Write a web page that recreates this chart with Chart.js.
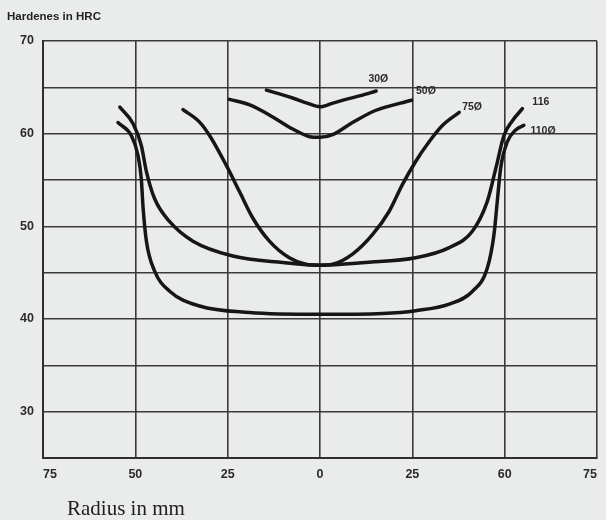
<!DOCTYPE html>
<html>
<head>
<meta charset="utf-8">
<title>Hardness profile</title>
<script src="https://cdn.jsdelivr.net/npm/chart.js@4/dist/chart.umd.min.js"></script>
<style>
  html, body { margin: 0; padding: 0; background: #eaecec; }
  canvas { display: block; }
</style>
</head>
<body>
<canvas id="c" width="606" height="520"></canvas>
<script>
// Hardness (HRC) across the section, radius in mm (negative = left half)
const r30   = [-14.5, -11, -7.4, -3.5, 0, 3.5, 7, 11, 15.2];
const hrc30 = [64.7, 64.3, 63.85, 63.3, 62.9, 63.3, 63.7, 64.1, 64.6];

const r50   = [-24.5, -19, -12.8, -7.4, -3, 0, 3.4, 8.8, 15, 24.8];
const hrc50 = [63.7, 63.1, 61.8, 60.5, 59.7, 59.6, 59.9, 61.2, 62.5, 63.6];

const r75   = [-37.1, -32.6, -29.9, -25.4, -21.8, -18.2, -13.7, -8.3, -3.8, 0, 3.4, 8.8, 14.2, 18.7, 22.3, 25.9, 29.5, 33.2, 37.7];
const hrc75 = [62.6, 61.25, 59.8, 56.6, 53.75, 50.9, 48.4, 46.6, 45.9, 45.8, 45.9, 47.0, 49.1, 51.6, 54.5, 57.0, 59.1, 60.9, 62.3];

const r116   = [-54.2, -50.6, -48.4, -47.0, -44.8, -40.7, -34.4, -23.6, -10.1, 0, 12.4, 25.9, 35.0, 41.3, 45.3, 47.6, 49.8, 52.1, 54.8];
const hrc116 = [62.86, 61.07, 58.75, 55.9, 53.0, 50.5, 48.4, 46.8, 46.1, 45.8, 46.1, 46.6, 47.7, 49.5, 52.7, 56.25, 59.8, 61.4, 62.7];

const r110   = [-54.7, -51.1, -49.3, -48.4, -47.9, -47.0, -44.8, -40.7, -32.6, -19.1, 0, 16.9, 25.9, 35.0, 41.3, 45.3, 47.1, 48.0, 48.9, 50.7, 53.0, 55.2];
const hrc110 = [61.2, 59.8, 57.7, 55.2, 52.0, 48.4, 45.2, 43.0, 41.4, 40.7, 40.5, 40.6, 40.9, 41.6, 43.0, 45.5, 49.1, 52.7, 56.25, 59.1, 60.4, 60.9];

// Axis tick labels
const xTickValues = [-75, -50, -25, 0, 25, 50, 75];
const xTickLabels = ['75', '50', '25', '0', '25', '60', '75'];
const yTickValues = [70, 60, 50, 40, 30];
const yTickLabels = ['70', '60', '50', '40', '30'];

// Curve labels, anchored in data coordinates
const curveLabelText = ['30\u00D8', '50\u00D8', '75\u00D8', '116', '110\u00D8'];
const curveLabelR    = [13.1, 26.0, 38.5, 57.5, 57.0];
const curveLabelHRC  = [65.9, 64.6, 62.9, 63.45, 60.3];

const toPoints = (xs, ys) => xs.map((x, i) => ({ x: x, y: ys[i] }));

const curveStyle = {
  showLine: true,
  borderColor: '#161616',
  borderWidth: 3.5,
  pointRadius: 0,
  cubicInterpolationMode: 'monotone',
  borderCapStyle: 'round',
  borderJoinStyle: 'round',
  fill: false
};

const textPlugin = {
  id: 'texts',
  afterDatasetsDraw(chart) {
    const ctx = chart.ctx;
    const xs = chart.scales.x, ys = chart.scales.y;
    ctx.save();
    ctx.fillStyle = '#2b2b2b';
    ctx.font = 'bold 10.5px "Liberation Sans", Arial, sans-serif';
    ctx.textAlign = 'left';
    ctx.textBaseline = 'middle';
    curveLabelText.forEach((t, i) => {
      ctx.fillText(t, xs.getPixelForValue(curveLabelR[i]), ys.getPixelForValue(curveLabelHRC[i]));
    });
    // axis titles
    ctx.fillStyle = '#222';
    ctx.font = 'bold 11.5px "Liberation Sans", Arial, sans-serif';
    ctx.fillText('Hardenes in HRC', 7, 17);
    ctx.font = '21px "Liberation Serif", "Times New Roman", serif';
    ctx.fillStyle = '#1e1e1e';
    ctx.fillText('Radius in mm', 67, 509);
    ctx.restore();
  }
};

new Chart(document.getElementById('c'), {
  type: 'scatter',
  data: {
    datasets: [
      Object.assign({ label: '30', data: toPoints(r30, hrc30) }, curveStyle),
      Object.assign({ label: '50', data: toPoints(r50, hrc50) }, curveStyle),
      Object.assign({ label: '75', data: toPoints(r75, hrc75) }, curveStyle),
      Object.assign({ label: '116', data: toPoints(r116, hrc116) }, curveStyle),
      Object.assign({ label: '110', data: toPoints(r110, hrc110) }, curveStyle)
    ]
  },
  options: {
    responsive: false,
    animation: false,
    layout: { padding: { left: 0, right: 8, top: 41, bottom: 0 } },
    plugins: { legend: { display: false }, tooltip: { enabled: false } },
    scales: {
      x: {
        type: 'linear',
        min: -75, max: 75,
        afterBuildTicks: (s) => { s.ticks = xTickValues.map(v => ({ value: v })); },
        afterFit: (s) => { s.height = 62; },
        grid: { color: '#3a3a3a', lineWidth: 1.6, drawTicks: false },
        border: { color: '#2e2e2e', width: 2 },
        ticks: {
          align: 'inner',
          padding: 9,
          color: '#2a2a2a',
          font: { family: '"Liberation Sans", Arial, sans-serif', size: 12.5, weight: 'bold' },
          callback: (v) => { const i = xTickValues.indexOf(v); return i >= 0 ? xTickLabels[i] : ''; }
        }
      },
      y: {
        type: 'linear',
        min: 25, max: 70,
        afterBuildTicks: (s) => {
          const t = [];
          for (let v = 25; v <= 70; v += 5) t.push({ value: v });
          s.ticks = t;
        },
        afterFit: (s) => { s.width = 43; },
        grid: { color: '#3a3a3a', lineWidth: 1.6, drawTicks: false },
        border: { color: '#2e2e2e', width: 2 },
        ticks: {
          padding: 9,
          color: '#2a2a2a',
          font: { family: '"Liberation Sans", Arial, sans-serif', size: 12.5, weight: 'bold' },
          callback: (v) => { const i = yTickValues.indexOf(v); return i >= 0 ? yTickLabels[i] : ''; }
        }
      }
    }
  },
  plugins: [textPlugin]
});
</script>
</body>
</html>
